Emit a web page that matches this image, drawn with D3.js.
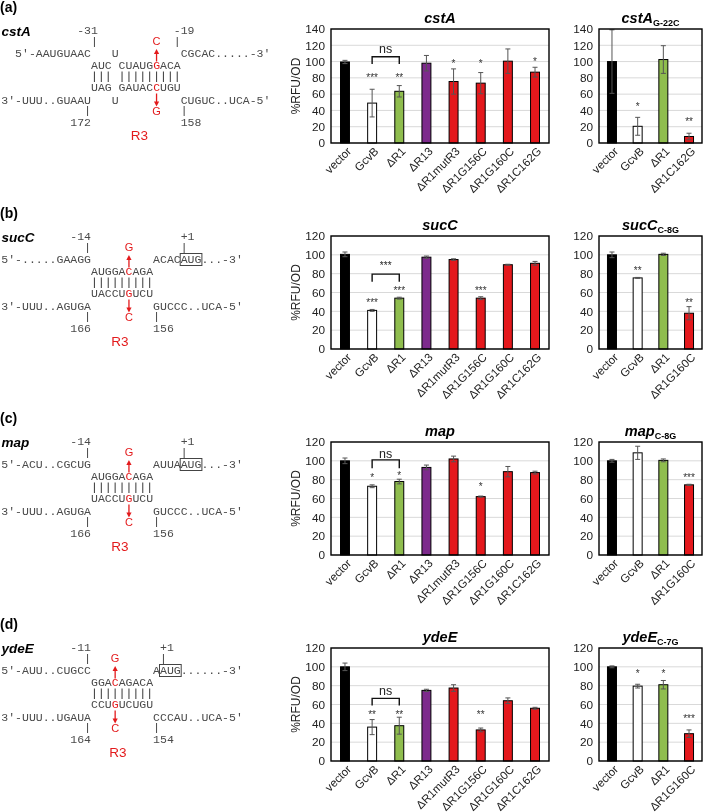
<!DOCTYPE html>
<html><head><meta charset="utf-8">
<script src="https://cdn.jsdelivr.net/npm/d3@7"></script>
<style>body{margin:0;background:#fff}svg{display:block;will-change:transform}</style>
</head><body>
<svg id="fig" width="709" height="812"></svg>
<script>
// ---------------- DATA ----------------
const catsMain = ["vector","GcvB","ΔR1","ΔR13","ΔR1mutR3","ΔR1G156C","ΔR1G160C","ΔR1C162G"];
const catsCstAmut = ["vector","GcvB","ΔR1","ΔR1C162G"];
const catsMut = ["vector","GcvB","ΔR1","ΔR1G160C"];

const cstAVals = [99.5,49,63.5,98,75.5,73.5,100.5,87];
const cstAErrs = [2,17,7,9.5,15.5,13,15,6];
const cstASig  = ["","***","**","","*","*","","*"];
const cstAmutVals = [100,20.5,102.5,8];
const cstAmutErrs = [39,11,17,4];
const cstAmutSig  = ["","*","","**"];

const sucCVals = [100.5,41,54,97.5,95,54,89.5,91];
const sucCErrs = [2.5,1,1,1.2,0.8,1.5,0.5,2];
const sucCSig  = ["","***","***","","","***","",""];
const sucCmutVals = [100,75.5,100.5,38];
const sucCmutErrs = [3,0.5,1.2,7];
const sucCmutSig  = ["","**","","**"];

const mapVals = [100,73,78,93,102,62,88.5,87.5];
const mapErrs = [3,1.5,2.5,2.5,3,0.6,5.5,1.5];
const mapSig  = ["","*","*","","","*","",""];
const mapmutVals = [100,108.5,100.5,74.5];
const mapmutErrs = [1.5,7,1.5,0.6];
const mapmutSig  = ["","","","***"];

const ydeEVals = [100,36,37.5,75,77.5,33,64,56];
const ydeEErrs = [4,8,9,1.2,3.5,2,3,1];
const ydeESig  = ["","**","**","","","**","",""];
const ydeEmutVals = [100,79.5,81,29];
const ydeEmutErrs = [1,2,4.5,4];
const ydeEmutSig  = ["","*","*","***"];

const bracketLabels = ["ns","***","ns","ns"];
const yMaxes = [140,120,120,120];
const yTickStep = 20;

// diagram texts
const dgLetters = ["(a)","(b)","(c)","(d)"];
const dgGenes = ["cstA","sucC","map","ydeE"];
const dgRow1L = ["5'-AAUGUAAC","5'-.....GAAGG","5'-ACU..CGCUG","5'-AUU..CUGCC"];
const dgRow1M = ["U","","",""];
const dgRow1R = ["CGCAC.....-3'","ACACAUG...-3'","AUUAAUG...-3'","AAUG......-3'"];
const dgRow2  = ["AUC CUAUGGACA","AUGGACAGA","AUGGACAGA","GGACAGACA"];
const dgPipes = ["||| |||||||||","|||||||||","|||||||||","|||||||||"];
const dgRow4  = ["UAG GAUACCUGU","UACCUGUCU","UACCUGUCU","CCUGUCUGU"];
const dgRow5L = ["3'-UUU..GUAAU","3'-UUU..AGUGA","3'-UUU..AGUGA","3'-UUU..UGAUA"];
const dgRow5M = ["U","","",""];
const dgRow5R = ["CUGUC..UCA-5'","GUCCC..UCA-5'","GUCCC..UCA-5'","CCCAU..UCA-5'"];
const dgMutIdx = [9,5,5,3];
const dgMutTop = ["C","G","G","G"];
const dgMutBot = ["G","C","C","C"];
const dgNumTL = ["-31","-14","-14","-11"];
const dgNumTR = ["-19","+1","+1","+1"];
const dgNumBL = ["172","166","166","164"];
const dgNumBR = ["158","156","156","154"];
const dgAugIdx = [-1,4,4,1];
const dgRegion = "R3";

// ---------------- LAYOUT ----------------
const rowBase = [57,263,468,674];
const chartTop = [29,236,442,648];
const chartBot = [143,349,555,761];
const mainX = [331,549], mutX = [599,702];
const tickColTL = [0,-1,-1,-1], tickColTR = [12,13,13,10], tickColBL = [-1,-1,-1,-1], tickColBR = [13,9,9,9];
const r3X = [139.5,120,120,118];
// positions (data units) of significance marks
const cstASigAt = [0,83,83,0,100.5,100.5,0,102];
const cstAmutSigAt = [0,47.5,0,29];
const sucCSigAt = [0,52,64.5,0,0,64.5,0,0];
const sucCmutSigAt = [0,86,0,52];
const mapSigAt = [0,84,86.5,0,0,74.5,0,0];
const mapmutSigAt = [0,0,0,84];
const ydeESigAt = [0,51,51,0,0,51,0,0];
const ydeEmutSigAt = [0,95.5,95.5,47];
const bracketTop = [106,79.5,101,66.5];
const bracketLeg = [97,71.5,92,59];
const bracketLabelAt = [116,91,108,75];

const RED = "#e31a1c", GRAY_TXT = "#4a4a4a";
function barColor(c){
  if(c==="vector") return "#000";
  if(c==="GcvB") return "#fff";
  if(c==="ΔR1") return "#8fbd4e";
  if(c==="ΔR13") return "#7d2a8c";
  return "#e4181c";
}

const svg = d3.select("#fig");

// ---------------- CHARTS ----------------
function drawChart(cfg){
  const g = svg.append("g");
  const x = d3.scaleBand().domain(cfg.cats).range(cfg.xr)
    .paddingInner(cfg.pi).paddingOuter(cfg.po);
  const y = d3.scaleLinear().domain([0,cfg.max]).range([cfg.bottom,cfg.top]);
  const ticks = d3.range(0,cfg.max+1,yTickStep);
  g.append("g").selectAll("line").data(ticks).join("line")
    .attr("x1",cfg.xr[0]).attr("x2",cfg.xr[1])
    .attr("y1",d=>y(d)).attr("y2",d=>y(d))
    .attr("stroke","#d9d9d9").attr("stroke-width",1);
  const ya = g.append("g").attr("transform",`translate(${cfg.xr[0]},0)`)
    .call(d3.axisLeft(y).tickValues(ticks).tickSize(0).tickPadding(6));
  ya.select(".domain").remove();
  ya.selectAll("text").attr("font-family","Liberation Sans, Arial").attr("font-size",11.8).attr("fill","#222");
  const xa = g.append("g").attr("transform",`translate(0,${cfg.bottom})`)
    .call(d3.axisBottom(x).tickSize(0));
  xa.select(".domain").remove();
  xa.selectAll("text").attr("x",0).attr("y",0).attr("dy",0)
    .attr("text-anchor","end").attr("transform","translate(7,9) rotate(-45)")
    .attr("font-family","Liberation Sans, Arial").attr("font-size",11.5).attr("fill","#222");
  g.append("g").selectAll("rect").data(cfg.vals).join("rect")
    .attr("x",(d,i)=>x(cfg.cats[i])).attr("width",x.bandwidth())
    .attr("y",d=>y(d)).attr("height",d=>cfg.bottom-y(d))
    .attr("fill",(d,i)=>barColor(cfg.cats[i])).attr("stroke","#000").attr("stroke-width",1);
  const eg = g.append("g").attr("stroke","#555").attr("stroke-width",1);
  cfg.vals.forEach((v,i)=>{
    const c = x(cfg.cats[i])+x.bandwidth()/2, e=cfg.errs[i];
    eg.append("line").attr("x1",c).attr("x2",c).attr("y1",y(v-e)).attr("y2",y(v+e));
    eg.append("line").attr("x1",c-2.5).attr("x2",c+2.5).attr("y1",y(v-e)).attr("y2",y(v-e));
    eg.append("line").attr("x1",c-2.5).attr("x2",c+2.5).attr("y1",y(v+e)).attr("y2",y(v+e));
  });
  g.append("g").selectAll("text").data(cfg.sig).join("text")
    .attr("x",(d,i)=>x(cfg.cats[i])+x.bandwidth()/2)
    .attr("y",(d,i)=>y(cfg.sigAt[i])+5.5)
    .attr("text-anchor","middle").attr("font-family","Liberation Sans, Arial")
    .attr("font-size",10).attr("fill","#333").text(d=>d);
  if(cfg.bracket){
    const a = x("GcvB")+x.bandwidth()/2, b = x("ΔR1")+x.bandwidth()/2;
    g.append("path").attr("d",`M${a},${y(cfg.bracket.leg)}V${y(cfg.bracket.top)}H${b}V${y(cfg.bracket.leg)}`)
      .attr("fill","none").attr("stroke","#111").attr("stroke-width",1.4);
    const ns = cfg.bracket.label==="ns";
    g.append("text").attr("x",(a+b)/2).attr("y",y(cfg.bracket.at)+(ns?4.5:5.5))
      .attr("text-anchor","middle").attr("font-family","Liberation Sans, Arial")
      .attr("font-size",ns?12.5:10).attr("fill","#222").text(cfg.bracket.label);
  }
  g.append("rect").attr("x",cfg.xr[0]).attr("y",cfg.top)
    .attr("width",cfg.xr[1]-cfg.xr[0]).attr("height",cfg.bottom-cfg.top)
    .attr("fill","none").attr("stroke","#000").attr("stroke-width",1.4);
  const t = g.append("text").attr("x",(cfg.xr[0]+cfg.xr[1])/2).attr("y",cfg.top-6)
    .attr("text-anchor","middle").attr("font-family","Liberation Sans, Arial")
    .attr("font-weight","bold").attr("font-style","italic").attr("font-size",14.5);
  t.append("tspan").text(cfg.title);
  if(cfg.sub) t.append("tspan").attr("font-size",9).attr("font-style","normal").attr("dy",3).text(cfg.sub);
  if(cfg.ylabel){
    g.append("text").attr("transform",`translate(300,${(cfg.top+cfg.bottom)/2}) rotate(-90)`)
      .attr("text-anchor","middle").attr("font-family","Liberation Sans, Arial")
      .attr("font-size",12).attr("fill","#222").text("%RFU/OD");
  }
}

const mainSets = [
  [cstAVals,cstAErrs,cstASig,cstASigAt,"cstA"],
  [sucCVals,sucCErrs,sucCSig,sucCSigAt,"sucC"],
  [mapVals,mapErrs,mapSig,mapSigAt,"map"],
  [ydeEVals,ydeEErrs,ydeESig,ydeESigAt,"ydeE"]
];
const mutSets = [
  [catsCstAmut,cstAmutVals,cstAmutErrs,cstAmutSig,cstAmutSigAt,"cstA","G-22C"],
  [catsMut,sucCmutVals,sucCmutErrs,sucCmutSig,sucCmutSigAt,"sucC","C-8G"],
  [catsMut,mapmutVals,mapmutErrs,mapmutSig,mapmutSigAt,"map","C-8G"],
  [catsMut,ydeEmutVals,ydeEmutErrs,ydeEmutSig,ydeEmutSigAt,"ydeE","C-7G"]
];
for(let p=0;p<4;p++){
  const m = mainSets[p];
  drawChart({cats:catsMain,vals:m[0],errs:m[1],sig:m[2],sigAt:m[3],title:m[4],
    xr:mainX,pi:0.67,po:0.35,top:chartTop[p],bottom:chartBot[p],max:yMaxes[p],ylabel:true,
    bracket:{label:bracketLabels[p],top:bracketTop[p],leg:bracketLeg[p],at:bracketLabelAt[p]}});
  const u = mutSets[p];
  drawChart({cats:u[0],vals:u[1],errs:u[2],sig:u[3],sigAt:u[4],title:u[5],sub:u[6],
    xr:mutX,pi:0.65,po:0.33,top:chartTop[p],bottom:chartBot[p],max:yMaxes[p],ylabel:false});
}

// ---------------- DIAGRAMS ----------------
const CW = 6.9, X0 = 91;
const colX = c => X0 + c*CW;
function mono(g,x,y,txt,anchor){
  return g.append("text").attr("x",x).attr("y",y).attr("text-anchor",anchor||"start")
    .attr("font-family","Liberation Mono, Courier New, monospace").attr("font-size",11.5)
    .attr("fill",GRAY_TXT).style("white-space","pre").text(txt);
}
function monoRed(g,x,y,txt,idx){
  const t = g.append("text").attr("x",x).attr("y",y)
    .attr("font-family","Liberation Mono, Courier New, monospace").attr("font-size",11.5)
    .attr("fill",GRAY_TXT).style("white-space","pre");
  t.append("tspan").text(txt.slice(0,idx));
  t.append("tspan").attr("fill",RED).text(txt[idx]);
  t.append("tspan").text(txt.slice(idx+1));
}
function arrow(g,x,y0,tip){
  const dir = tip<y0?1:-1;
  g.append("line").attr("x1",x).attr("x2",x).attr("y1",y0).attr("y2",tip+dir*3)
    .attr("stroke",RED).attr("stroke-width",1.3);
  g.append("path").attr("d",`M${x},${tip}L${x-2.6},${tip+dir*5}L${x+2.6},${tip+dir*5}Z`).attr("fill",RED);
}
for(let p=0;p<4;p++){
  const g = svg.append("g"), R = rowBase[p];
  g.append("text").attr("x",0).attr("y",R-45).attr("font-family","Liberation Sans, Arial")
    .attr("font-weight","bold").attr("font-size",14).text(dgLetters[p]);
  g.append("text").attr("x",1.5).attr("y",R-21).attr("font-family","Liberation Sans, Arial")
    .attr("font-weight","bold").attr("font-style","italic").attr("font-size",13.5).text(dgGenes[p]);
  const L = dgRow2[p].length;
  mono(g,X0,R,dgRow1L[p],"end");
  if(dgRow1M[p]) mono(g,colX(3),R,dgRow1M[p]);
  mono(g,colX(L),R,dgRow1R[p]);
  monoRed(g,colX(0),R+11.5,dgRow2[p],dgMutIdx[p]);
  // base-pair marks
  g.append("g").selectAll("line")
    .data(dgPipes[p].split("").map((ch,i)=>({ch,i})).filter(d=>d.ch==="|"))
    .join("line")
    .attr("x1",d=>colX(d.i)+CW/2).attr("x2",d=>colX(d.i)+CW/2)
    .attr("y1",R+14.5).attr("y2",R+25)
    .attr("stroke",GRAY_TXT).attr("stroke-width",1.1);
  monoRed(g,colX(0),R+34,dgRow4[p],dgMutIdx[p]);
  mono(g,X0,R+46.5,dgRow5L[p],"end");
  if(dgRow5M[p]) mono(g,colX(3),R+46.5,dgRow5M[p]);
  mono(g,colX(L),R+46.5,dgRow5R[p]);
  if(dgAugIdx[p]>=0){
    g.append("rect").attr("x",colX(L+dgAugIdx[p])-0.5).attr("y",R-9.5)
      .attr("width",3*CW+1).attr("height",12).attr("fill","none")
      .attr("stroke","#444").attr("stroke-width",1);
  }
  const tk = (col,y1,y2)=>{const xx=colX(col)+CW/2;
    g.append("line").attr("x1",xx).attr("x2",xx).attr("y1",y1).attr("y2",y2)
     .attr("stroke",GRAY_TXT).attr("stroke-width",1); return xx;};
  let xx = tk(tickColTL[p],R-20,R-10); mono(g,xx+CW/2,R-23.5,dgNumTL[p],"end");
  xx = tk(tickColTR[p],R-20,R-10); mono(g,xx-CW/2,R-23.5,dgNumTR[p],"start");
  xx = tk(tickColBL[p],R+49,R+59); mono(g,xx+CW/2,R+69,dgNumBL[p],"end");
  xx = tk(tickColBR[p],R+49,R+59); mono(g,xx-CW/2,R+69,dgNumBR[p],"start");
  const mx = colX(dgMutIdx[p])+CW/2;
  arrow(g,mx,R+4.5,R-8);
  arrow(g,mx,R+36.5,R+49.5);
  g.append("text").attr("x",mx).attr("y",R-12).attr("text-anchor","middle")
    .attr("font-family","Liberation Sans, Arial").attr("font-size",11).attr("fill",RED).text(dgMutTop[p]);
  g.append("text").attr("x",mx).attr("y",R+57.5).attr("text-anchor","middle")
    .attr("font-family","Liberation Sans, Arial").attr("font-size",11).attr("fill",RED).text(dgMutBot[p]);
  g.append("text").attr("x",r3X[p]).attr("y",R+83).attr("text-anchor","middle")
    .attr("font-family","Liberation Sans, Arial").attr("font-size",13.5).attr("fill",RED).text(dgRegion);
}
</script>
</body></html>
